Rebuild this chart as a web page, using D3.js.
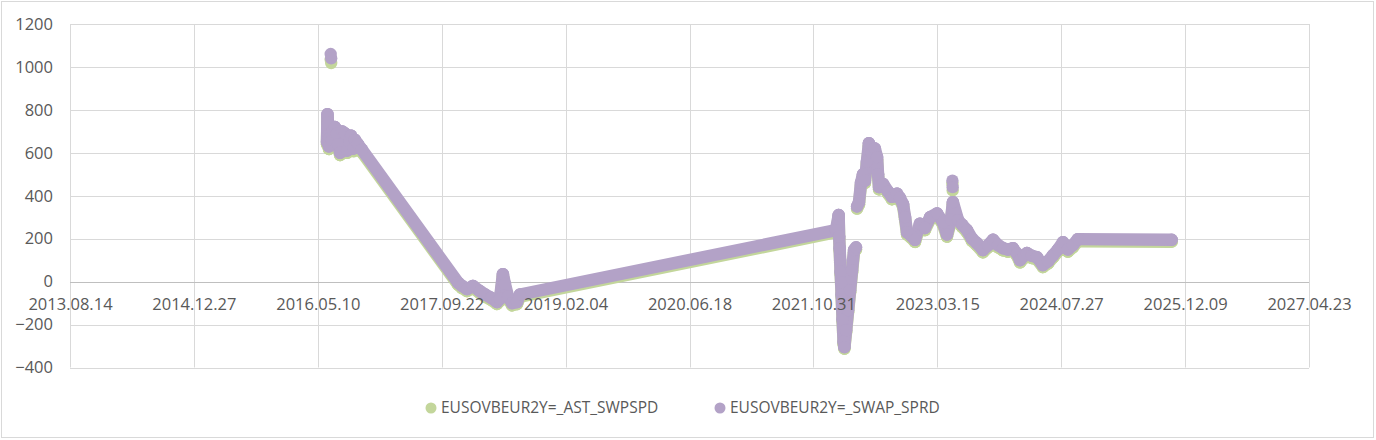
<!DOCTYPE html>
<html>
<head>
<meta charset="utf-8">
<script src="https://cdn.jsdelivr.net/npm/d3@7"></script>
<style>
  body { margin: 0; background: #fff; }
  svg text { font-family: "Open Sans", sans-serif; fill: #595959; }
</style>
</head>
<body>
<svg width="1376" height="440"></svg>
<script>
// x tick labels (every 500 days) and y ticks
var xTicks = ["2013.08.14", "2014.12.27", "2016.05.10", "2017.09.22", "2019.02.04", "2020.06.18",
              "2021.10.31", "2023.03.15", "2024.07.27", "2025.12.09", "2027.04.23"];
var yTicks = [-400, -200, 0, 200, 400, 600, 800, 1000, 1200];

var seriesNames = ["EUSOVBEUR2Y=_AST_SWPSPD", "EUSOVBEUR2Y=_SWAP_SPRD"];
var seriesColors = ["#c3d69b", "#b3a2c7"];

var dates = [
  "2016-06-16", "2016-06-18", "2016-06-20", "2016-06-22", "2016-06-24", "2016-06-28", "2016-07-06", "2016-07-10",
  "2016-07-18", "2016-07-26", "2016-07-31", "2016-08-08", "2016-08-16", "2016-08-28", "2016-09-05", "2016-09-15",
  "2016-09-21", "2016-10-01", "2016-10-07", "2016-10-19", "2016-11-04", "2017-11-27", "2017-12-13", "2018-01-02",
  "2018-01-26", "2018-02-24", "2018-03-16", "2018-04-09", "2018-05-03", "2018-05-15", "2018-05-27", "2018-06-04",
  "2018-06-17", "2018-07-03", "2018-07-23", "2018-08-04", "2022-01-30", "2022-02-10", "2022-02-12", "2022-02-14",
  "2022-02-16", "2022-02-18", "2022-02-20", "2022-02-22", "2022-02-24", "2022-02-26", "2022-02-28", "2022-03-02",
  "2022-03-05", "2022-03-12", "2022-03-20", "2022-03-28", "2022-04-05", "2022-04-13", "2022-04-21", "2022-04-25",
  "2022-05-03", "2022-05-11", "2022-05-19", "2022-05-27", "2022-06-04", "2022-06-12", "2022-06-24", "2022-07-06",
  "2022-07-15", "2022-07-19", "2022-07-23", "2022-08-08", "2022-08-28", "2022-09-13", "2022-10-03", "2022-10-15",
  "2022-10-28", "2022-11-05", "2022-11-13", "2022-11-29", "2022-12-15", "2023-01-04", "2023-01-24", "2023-02-14",
  "2023-03-14", "2023-04-07", "2023-04-23", "2023-05-09", "2023-05-17", "2023-06-07", "2023-06-23", "2023-07-13",
  "2023-08-02", "2023-08-22", "2023-09-15", "2023-10-06", "2023-10-26", "2023-11-15", "2023-12-05", "2023-12-25",
  "2024-01-14", "2024-01-31", "2024-02-12", "2024-02-28", "2024-03-11", "2024-03-31", "2024-04-20", "2024-05-14",
  "2024-06-04", "2024-06-24", "2024-07-14", "2024-08-03", "2024-08-23", "2024-09-12", "2024-10-02", "2025-10-16"
];

var swapSprd = [
  650, 780, 740, 680, 630, 670, 660, 700, 720, 690, 640, 600, 700, 690, 610, 650,
  680, 620, 660, 640, 615, -5, -20, -35, -20, -45, -60, -75, -95, -80, 35, -10,
  -70, -100, -95, -60, 240, 310, 210, 156, 100, 45, -5, -60, -120, -175, -230, -280,
  -305, -226, -133, -40, 53, 147, 160, 350, 370, 460, 500, 470, 560, 645, 600, 620,
  580, 500, 440, 455, 420, 395, 410, 390, 360, 300, 230, 215, 195, 270, 250, 300,
  318, 277, 220, 290, 370, 286, 265, 240, 200, 179, 147, 170, 195, 170, 156, 150,
  156, 130, 100, 120, 133, 120, 114, 77, 95, 123, 150, 184, 150, 170, 198, 195
];

var astSwpspd = [
  640, 765, 728, 668, 618, 660, 648, 690, 708, 680, 628, 590, 688, 678, 600, 640,
  668, 608, 650, 630, 603, -14, -30, -44, -30, -54, -70, -84, -104, -90, 25, -20,
  -80, -110, -104, -70, 230, 300, 200, 146, 90, 35, -14, -70, -130, -185, -238, -290,
  -312, -235, -142, -50, 43, 137, 150, 340, 360, 450, 490, 460, 548, 632, 590, 608,
  568, 490, 430, 444, 410, 384, 400, 380, 350, 290, 220, 205, 185, 260, 240, 290,
  308, 266, 210, 280, 360, 276, 255, 230, 190, 169, 137, 160, 185, 160, 146, 140,
  146, 120, 90, 110, 123, 110, 104, 68, 85, 113, 140, 174, 140, 160, 188, 186
];

// single-day spikes that stand apart from the rest
var spikeDates = ["2016-07-01", "2016-07-03", "2023-05-15", "2023-05-16"];
var spikeSwap = [1060, 1040, 470, 440];
var spikeAst = [1035, 1018, 455, 425];

var svg = d3.select("svg"),
    margin = {top: 24, right: 67, bottom: 72.5, left: 70},
    width = +svg.attr("width") - margin.left - margin.right,
    height = +svg.attr("height") - margin.top - margin.bottom;

var parseTick = d3.utcParse("%Y.%m.%d"),
    parseDate = d3.utcParse("%Y-%m-%d");

var x = d3.scaleUtc()
    .domain([parseTick(xTicks[0]), parseTick(xTicks[xTicks.length - 1])])
    .range([0, width]);
var y = d3.scaleLinear().domain([-400, 1200]).range([height, 0]);

// chart area border
svg.append("rect")
    .attr("x", 1.5).attr("y", 1.5)
    .attr("width", 1372).attr("height", 436)
    .attr("fill", "#fff")
    .attr("stroke", "#d9d9d9");

var g = svg.append("g")
    .attr("transform", "translate(" + margin.left + "," + margin.top + ")");

// gridlines
g.append("g").selectAll("line")
    .data(yTicks.filter(function(d) { return d !== 0; }))
    .enter().append("line")
    .attr("x1", 0).attr("x2", width)
    .attr("y1", function(d) { return Math.round(y(d)) + 0.5; })
    .attr("y2", function(d) { return Math.round(y(d)) + 0.5; })
    .attr("stroke", "#d9d9d9");

g.append("g").selectAll("line")
    .data(xTicks)
    .enter().append("line")
    .attr("x1", function(d) { return Math.round(x(parseTick(d))) + 0.5; })
    .attr("x2", function(d) { return Math.round(x(parseTick(d))) + 0.5; })
    .attr("y1", 0).attr("y2", height)
    .attr("stroke", "#d9d9d9");

// axis line at zero
g.append("line")
    .attr("x1", 0).attr("x2", width)
    .attr("y1", Math.round(y(0)) + 0.5).attr("y2", Math.round(y(0)) + 0.5)
    .attr("stroke", "#bfbfbf");

// series: dense daily markers read as a thick band
var r = 6.2;
var line = d3.line()
    .x(function(d) { return x(d.date); })
    .y(function(d) { return y(d.value); });

function drawSeries(values, spikes, color) {
    var pts = dates.map(function(d, i) { return {date: parseDate(d), value: values[i]}; });
    var sp = spikeDates.map(function(d, i) { return {date: parseDate(d), value: spikes[i]}; });
    var s = g.append("g");
    // a big jump within a few days is a break, not a filled run
    var segs = d3.pairs(pts).filter(function(p) {
        var days = (p[1].date - p[0].date) / 864e5;
        return Math.abs(p[0].value - p[1].value) <= 150 || days > 60;
    });
    s.selectAll("path")
        .data(segs)
        .enter().append("path")
        .attr("d", line)
        .attr("fill", "none")
        .attr("stroke", color)
        .attr("stroke-width", r * 2)
        .attr("stroke-linecap", "round")
        .attr("stroke-linejoin", "round");
    s.selectAll("circle")
        .data(pts.concat(sp))
        .enter().append("circle")
        .attr("cx", function(d) { return x(d.date); })
        .attr("cy", function(d) { return y(d.value); })
        .attr("r", r)
        .attr("fill", color);
}

drawSeries(astSwpspd, spikeAst, seriesColors[0]);
drawSeries(swapSprd, spikeSwap, seriesColors[1]);

// y labels
var yAxis = d3.axisLeft(y).tickValues(yTicks).tickSize(0).tickPadding(17).tickFormat(d3.format("d"));
var yAxisGroup = g.append("g").call(yAxis);
yAxisGroup.select(".domain").remove();
yAxisGroup.selectAll("text").style("font-size", "16.5px").attr("fill", "#595959");

// x labels sit on the zero line, over the markers
var xAxis = d3.axisBottom(x)
    .tickValues(xTicks.map(parseTick))
    .tickSize(0).tickPadding(17)
    .tickFormat(d3.utcFormat("%Y.%m.%d"));
var xAxisGroup = g.append("g")
    .attr("transform", "translate(0," + y(0) + ")")
    .call(xAxis);
xAxisGroup.select(".domain").remove();
xAxisGroup.selectAll("text").style("font-size", "16.5px").attr("fill", "#595959");

// legend
var legendX = [431, 720];
var legend = svg.append("g").selectAll("g")
    .data(seriesNames)
    .enter().append("g")
    .attr("transform", function(d, i) { return "translate(" + legendX[i] + ",408)"; });
legend.append("circle")
    .attr("r", 5.5)
    .attr("fill", function(d, i) { return seriesColors[i]; });
legend.append("text")
    .attr("x", 10)
    .attr("dy", "0.35em")
    .style("font-size", "15.5px")
    .text(function(d) { return d; });
</script>
</body>
</html>
